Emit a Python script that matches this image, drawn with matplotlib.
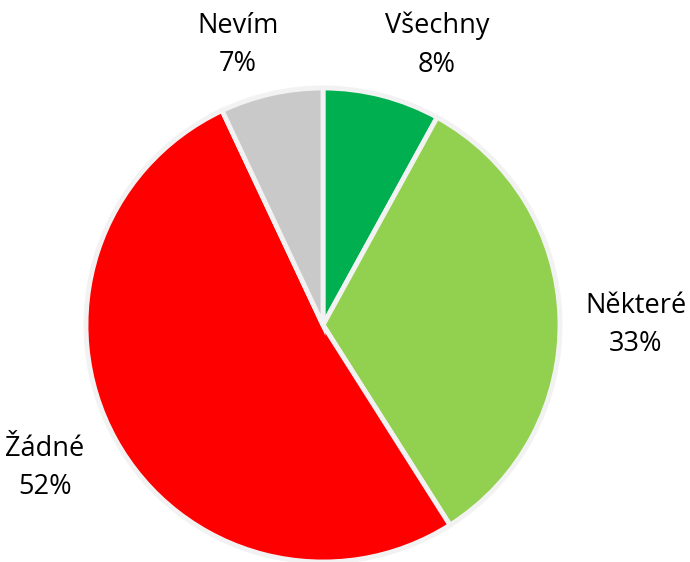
import matplotlib
matplotlib.use("Agg")
import matplotlib.pyplot as plt

categories = ["Všechny", "Některé", "Žádné", "Nevím"]
values = [8, 33, 52, 7]
colors = ["#00b050", "#92d050", "#ff0000", "#c9c9c9"]
# label anchor positions (pixel coords, origin top-left)
label_pos = [(437, 45), (636, 325), (45, 468), (238, 45)]

W, H = 690, 562
fig = plt.figure(figsize=(W / 100, H / 100), dpi=100)
ax = fig.add_axes([0, 0, 1, 1])

ax.pie(values, colors=colors, startangle=90, counterclock=False,
       center=(323, H - 325), radius=237, frame=True,
       wedgeprops=dict(edgecolor="#f2f2f2", linewidth=3.5))
ax.set_xlim(0, W)
ax.set_ylim(0, H)
ax.set_aspect("equal")
ax.axis("off")

for cat, v, (x, y) in zip(categories, values, label_pos):
    ax.text(x, H - y, f"{cat}\n{v}%", ha="center", va="center",
            fontsize=19.5, family=["Open Sans", "DejaVu Sans"],
            linespacing=1.5, color="#000000")

fig.savefig("out.png", dpi=100)
